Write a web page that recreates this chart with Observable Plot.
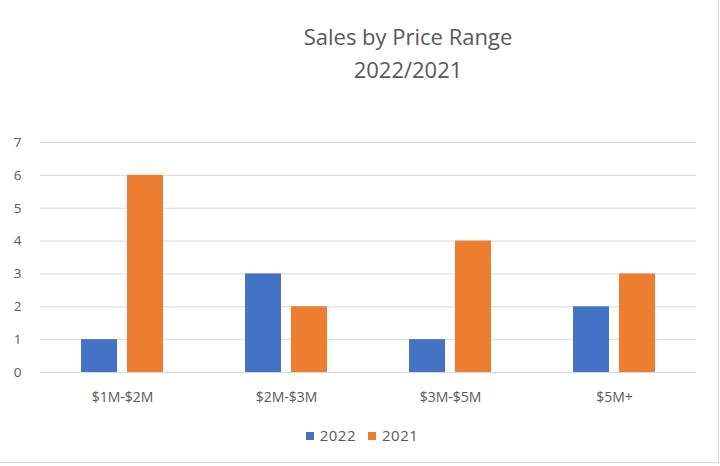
<!DOCTYPE html>
<html>
<head>
<meta charset="utf-8">
<script src="https://cdn.jsdelivr.net/npm/d3@7"></script>
<script src="https://cdn.jsdelivr.net/npm/@observablehq/plot@0.6"></script>
<style>
  body { margin: 0; background: #fff; }
  #wrap { position: relative; width: 720px; height: 466px; overflow: hidden; font-family: "Open Sans", sans-serif; }
  #title { position: absolute; left: 0; top: 20px; width: 816px; text-align: center; color: #595959; font-size: 22px; line-height: 33px; }
  #legend { position: absolute; left: 0; top: 425px; width: 724px; text-align: center; color: #595959; font-size: 15px; letter-spacing: 0.5px; }
  #legend span.sw { display: inline-block; width: 8px; height: 8px; margin-right: 6px; vertical-align: 1px; }
  #legend span.item { margin: 0 6px; }
  #frame { position: absolute; left: 0; top: 0; width: 718px; height: 462px; border-right: 1px solid #d9d9d9; border-bottom: 1px solid #d9d9d9; pointer-events: none; }
  svg { position: absolute; left: 0; top: 0; }
</style>
</head>
<body>
<div id="wrap">
  <div id="frame"></div>
  <div id="title">Sales by Price Range<br>2022/2021</div>
  <div id="legend"></div>
</div>
<script>
const categories = ["$1M-$2M", "$2M-$3M", "$3M-$5M", "$5M+"];
const series = ["2022", "2021"];
const values2022 = [1, 3, 1, 2];
const values2021 = [6, 2, 4, 3];
const colors = ["#4472C4", "#ED7D31"];
const yTicks = [0, 1, 2, 3, 4, 5, 6, 7];

const data = [];
categories.forEach((c, i) => {
  data.push({category: c, year: "2022", value: values2022[i]});
  data.push({category: c, year: "2021", value: values2021[i]});
});

const chart = Plot.plot({
  width: 720,
  height: 466,
  marginLeft: 38,
  marginRight: 23,
  marginTop: 142,
  marginBottom: 94,
  style: {fontFamily: "Open Sans, sans-serif", fontSize: "13px", color: "#595959", background: "transparent"},
  fx: {domain: categories, padding: 0, label: null, axis: null},
  x: {domain: series, paddingInner: 0.213, paddingOuter: 0.861, axis: null},
  y: {domain: [0, 7], ticks: yTicks, label: null},
  color: {domain: series, range: colors},
  marks: [
    Plot.gridY(yTicks, {stroke: "#d9d9d9", strokeOpacity: 1, strokeWidth: 1}),
    Plot.axisY(yTicks, {tickSize: 0, tickPadding: 19, fontSize: 13.5, fill: "#595959", label: null}),
    Plot.axisFx({anchor: "bottom", tickSize: 0, tickPadding: 20, fontSize: 14, fill: "#595959", label: null}),
    Plot.barY(data, {fx: "category", x: "year", y: "value", fill: "year"})
  ]
});
document.getElementById("wrap").appendChild(chart);

const legend = document.getElementById("legend");
legend.innerHTML = series.map((s, i) =>
  `<span class="item"><span class="sw" style="background:${colors[i]}"></span>${s}</span>`
).join("");
</script>
</body>
</html>
